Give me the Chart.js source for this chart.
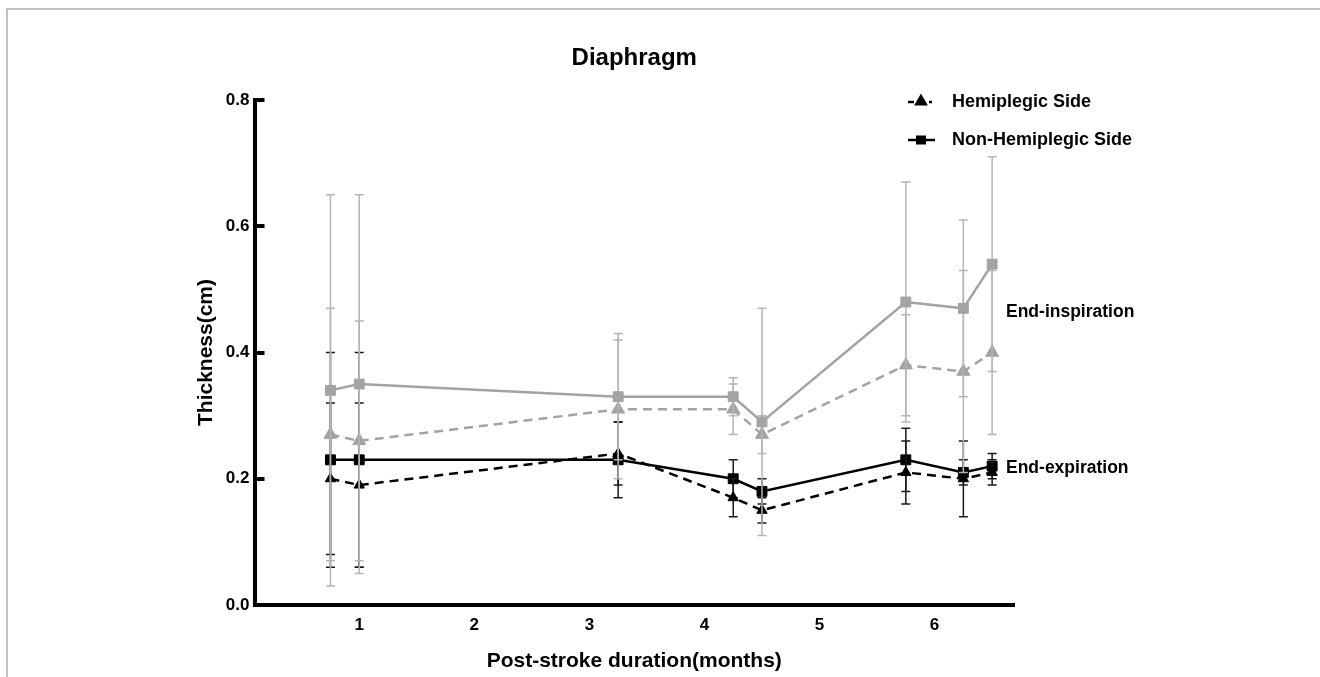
<!DOCTYPE html>
<html>
<head>
<meta charset="utf-8">
<script src="https://cdn.jsdelivr.net/npm/chart.js@4.4.1/dist/chart.umd.min.js"></script>
<style>
  html, body { margin: 0; padding: 0; background: #fff; }
  #wrap { width: 1320px; height: 677px; position: relative; }
</style>
</head>
<body>
<div id="wrap"><canvas id="c" width="1320" height="677"></canvas></div>
<script>
// ---- data ----
const months = [0.75, 1, 3.25, 4.25, 4.5, 5.75, 6.25, 6.5];
const xTicks = [1, 2, 3, 4, 5, 6];
const yTicks = [0, 0.2, 0.4, 0.6, 0.8];

const inspNonHemi     = [0.34, 0.35, 0.33, 0.33, 0.29, 0.48, 0.47, 0.54];
const inspNonHemiErr  = [0.31, 0.30, 0.10, 0.03, 0.18, 0.19, 0.14, 0.17];
const inspHemi        = [0.27, 0.26, 0.31, 0.31, 0.27, 0.38, 0.37, 0.40];
const inspHemiErr     = [0.20, 0.19, 0.11, 0.04, 0.03, 0.08, 0.16, 0.13];
const expNonHemi      = [0.23, 0.23, 0.23, 0.20, 0.18, 0.23, 0.21, 0.22];
const expNonHemiErr   = [0.17, 0.17, 0.06, 0.03, 0.02, 0.05, 0.02, 0.02];
const expHemi         = [0.20, 0.19, 0.24, 0.17, 0.15, 0.21, 0.20, 0.21];
const expHemiErr      = [0.12, 0.13, 0.05, 0.03, 0.02, 0.05, 0.06, 0.02];

const FONT = '"Liberation Sans", Arial, Helvetica, sans-serif';
const GRAY = '#a3a3a3';
const GRAY_ERR = '#b5b5b5';

function pts(ys) { return months.map((x, i) => ({ x: x, y: ys[i] })); }

function ds(label, ys, errs, color, errColor, style, radius, dash, width) {
  return {
    label: label,
    data: pts(ys),
    errors: errs,
    errColor: errColor,
    borderColor: color,
    backgroundColor: color,
    pointBackgroundColor: color,
    pointBorderColor: color,
    pointBorderWidth: 1,
    pointStyle: style,
    pointRadius: radius,
    pointHoverRadius: radius,
    borderWidth: width,
    borderDash: dash,
    tension: 0,
    fill: false,
    clip: false
  };
}

const errorBarPlugin = {
  id: 'errorBars',
  beforeDatasetDraw(chart, args) {
    const d = chart.data.datasets[args.index];
    if (!d.errors) return;
    const xs = chart.scales.x, ys = chart.scales.y;
    const ctx = chart.ctx;
    ctx.save();
    ctx.strokeStyle = d.errColor;
    ctx.lineWidth = 1.5;
    ctx.setLineDash([]);
    d.data.forEach((p, i) => {
      const e = d.errors[i];
      const px = xs.getPixelForValue(p.x);
      const top = ys.getPixelForValue(p.y + e);
      const bot = ys.getPixelForValue(p.y - e);
      const cw = 4.5;
      ctx.beginPath();
      ctx.moveTo(px, top); ctx.lineTo(px, bot);
      ctx.moveTo(px - cw, top); ctx.lineTo(px + cw, top);
      ctx.moveTo(px - cw, bot); ctx.lineTo(px + cw, bot);
      ctx.stroke();
    });
    ctx.restore();
  }
};

const decorPlugin = {
  id: 'decor',
  beforeDraw(chart) {
    const ctx = chart.ctx;
    ctx.save();
    ctx.fillStyle = '#fff';
    ctx.fillRect(0, 0, chart.width, chart.height);
    ctx.strokeStyle = '#adadad';
    ctx.lineWidth = 1.5;
    ctx.beginPath();
    ctx.moveTo(7, 677); ctx.lineTo(7, 9); ctx.lineTo(1320, 9);
    ctx.stroke();
    ctx.restore();
  },
  afterDraw(chart) {
    const ctx = chart.ctx;
    const ca = chart.chartArea;
    ctx.save();
    ctx.fillStyle = '#000';
    ctx.textBaseline = 'middle';
    // title
    ctx.font = 'bold 24px ' + FONT;
    ctx.textAlign = 'center';
    ctx.fillText('Diaphragm', (ca.left + ca.right) / 2, 58);
    // annotations
    ctx.font = 'bold 17.5px ' + FONT;
    ctx.textAlign = 'left';
    ctx.fillText('End-inspiration', 1006, 312);
    ctx.fillText('End-expiration', 1006, 468);
    // legend
    ctx.font = 'bold 18px ' + FONT;
    ctx.fillText('Hemiplegic Side', 952, 102);
    ctx.fillText('Non-Hemiplegic Side', 952, 140);
    // legend symbol 1: dashed + triangle
    ctx.strokeStyle = '#000';
    ctx.lineWidth = 2.5;
    ctx.beginPath();
    ctx.moveTo(908, 102); ctx.lineTo(914, 102);
    ctx.moveTo(929, 102); ctx.lineTo(932, 102);
    ctx.stroke();
    Chart.helpers.drawPoint(ctx, { pointStyle: 'triangle', radius: 5.5, rotation: 0, borderWidth: 1 }, 921, 101.5);
    ctx.fillStyle = '#000';
    ctx.fill();
    // legend symbol 2: solid + square
    ctx.beginPath();
    ctx.moveTo(908, 140); ctx.lineTo(935, 140);
    ctx.stroke();
    ctx.fillRect(916, 135.5, 10, 9);
    ctx.restore();
  }
};

const chart = new Chart(document.getElementById('c'), {
  type: 'line',
  data: {
    datasets: [
      ds('Non-Hemiplegic Side (End-inspiration)', inspNonHemi, inspNonHemiErr, GRAY, GRAY_ERR, 'rect', 7, [], 2.5),
      ds('Hemiplegic Side (End-inspiration)', inspHemi, inspHemiErr, GRAY, GRAY_ERR, 'triangle', 7.5, [9, 6], 2.5),
      ds('Hemiplegic Side (End-expiration)', expHemi, expHemiErr, '#000', '#1a1a1a', 'triangle', 6, [9, 6], 2.5),
      ds('Non-Hemiplegic Side (End-expiration)', expNonHemi, expNonHemiErr, '#000', '#1a1a1a', 'rect', 7, [], 2.5)
    ]
  },
  options: {
    responsive: false,
    animation: false,
    devicePixelRatio: 1,
    layout: { padding: { left: 0, top: 100, right: 306, bottom: 0 } },
    plugins: {
      legend: { display: false },
      title: { display: false },
      tooltip: { enabled: false }
    },
    scales: {
      x: {
        type: 'linear',
        min: 0.09,
        max: 6.69,
        afterBuildTicks(s) { s.ticks = xTicks.map(v => ({ value: v })); },
        afterFit(s) { s.height = 72; },
        grid: { display: false, drawTicks: false, tickLength: 0 },
        border: { display: true, color: '#000', width: 4 },
        ticks: {
          padding: 10,
          color: '#000',
          font: { family: FONT, size: 17, weight: 'bold' },
          callback: v => String(v)
        },
        title: {
          display: true,
          text: 'Post-stroke duration(months)',
          color: '#000',
          font: { family: FONT, size: 21, weight: 'bold' },
          padding: { top: 0, bottom: 3.5 }
        }
      },
      y: {
        type: 'linear',
        min: 0,
        max: 0.8,
        afterBuildTicks(s) { s.ticks = yTicks.map(v => ({ value: v })); },
        afterFit(s) { s.width = 254.5; },
        grid: {
          display: true,
          drawOnChartArea: false,
          drawTicks: true,
          tickLength: -10,
          tickWidth: 4,
          tickColor: '#000',
          color: '#000',
          lineWidth: 4
        },
        border: { display: true, color: '#000', width: 4 },
        ticks: {
          padding: 15,
          color: '#000',
          font: { family: FONT, size: 17, weight: 'bold' },
          callback: v => Number(v).toFixed(1)
        },
        title: {
          display: true,
          text: 'Thickness(cm)',
          color: '#000',
          font: { family: FONT, size: 21, weight: 'bold' },
          padding: { top: 194, bottom: 0 }
        }
      }
    }
  },
  plugins: [decorPlugin, errorBarPlugin]
});
</script>
</body>
</html>
